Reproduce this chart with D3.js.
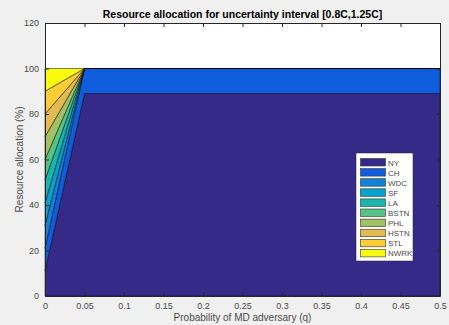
<!DOCTYPE html>
<html>
<head>
<meta charset="utf-8">
<script src="https://cdn.jsdelivr.net/npm/d3@7"></script>
<style>
  body { margin: 0; background: #f0f0f0; }
  svg { font-family: "Liberation Sans", Arial, sans-serif; display: block; }
</style>
</head>
<body>
<div id="chart"></div>
<script>
const qValues = [0, 0.05, 0.1, 0.15, 0.2, 0.25, 0.3, 0.35, 0.4, 0.45, 0.5]
const cities = ['NY', 'CH', 'WDC', 'SF', 'LA', 'BSTN', 'PHL', 'HSTN', 'STL', 'NWRK']
const NY   = [11, 89, 89, 89, 89, 89, 89, 89, 89, 89, 89]
const CH   = [10, 11, 11, 11, 11, 11, 11, 11, 11, 11, 11]
const WDC  = [10, 0, 0, 0, 0, 0, 0, 0, 0, 0, 0]
const SF   = [10, 0, 0, 0, 0, 0, 0, 0, 0, 0, 0]
const LA   = [10, 0, 0, 0, 0, 0, 0, 0, 0, 0, 0]
const BSTN = [9, 0, 0, 0, 0, 0, 0, 0, 0, 0, 0]
const PHL  = [10, 0, 0, 0, 0, 0, 0, 0, 0, 0, 0]
const HSTN = [10, 0, 0, 0, 0, 0, 0, 0, 0, 0, 0]
const STL  = [10, 0, 0, 0, 0, 0, 0, 0, 0, 0, 0]
const NWRK = [10, 0, 0, 0, 0, 0, 0, 0, 0, 0, 0]
const xTicks = [0, 0.05, 0.1, 0.15, 0.2, 0.25, 0.3, 0.35, 0.4, 0.45, 0.5]
const yTicks = [0, 20, 40, 60, 80, 100, 120]

// old matlab parula, one per series
const colors = ['#352a87', '#0f5cdd', '#1281d6', '#07a1d0', '#18b6ac',
  '#56c286', '#a2c163', '#e1bb51', '#fccd37', '#f9fb0e']

const series = [NY, CH, WDC, SF, LA, BSTN, PHL, HSTN, STL, NWRK]
const rows = qValues.map((q, i) => {
  let r = { q: q }
  cities.forEach((c, k) => { r[c] = series[k][i] })
  return r
})

const W = 449, H = 325
const m = { left: 45, right: 9, top: 23, bottom: 29 }

var svg = d3.select('#chart')
  .append('svg')
  .attr('width', W)
  .attr('height', H)

var x = d3.scaleLinear().domain([0, 0.5]).range([m.left, W - m.right])
var y = d3.scaleLinear().domain([0, 120]).range([H - m.bottom, m.top])

svg.append('rect')
  .attr('x', m.left).attr('y', m.top)
  .attr('width', x(0.5) - x(0)).attr('height', y(0) - y(120))
  .attr('fill', '#fff')

var stacked = d3.stack().keys(cities)(rows)

var area = d3.area()
  .x((d) => x(d.data.q))
  .y0((d) => y(d[0]))
  .y1((d) => y(d[1]))

svg.append('g')
  .selectAll('path')
  .data(stacked)
  .enter()
  .append('path')
  .attr('d', area)
  .attr('fill', (d, i) => colors[i])
  .attr('stroke', '#000')
  .attr('stroke-width', 0.5)
  .attr('stroke-linejoin', 'round')

// axes, matlab style: ticks inside, box all round
var axisColor = '#262626'
var labelColor = '#4a4a4a'
var xAxis = d3.axisBottom(x).tickValues(xTicks).tickSizeInner(-4).tickSizeOuter(0)
  .tickPadding(7).tickFormat((d) => d3.format('')(+d.toFixed(2)))
var yAxis = d3.axisLeft(y).tickValues(yTicks).tickSizeInner(-4).tickSizeOuter(0)
  .tickPadding(6)

var gx = svg.append('g').attr('transform', `translate(0,${y(0)})`).call(xAxis)
var gy = svg.append('g').attr('transform', `translate(${m.left},0)`).call(yAxis)
svg.append('g').attr('transform', `translate(0,${y(120)})`)
  .call(d3.axisTop(x).tickValues(xTicks).tickSizeInner(-4).tickSizeOuter(0).tickFormat(''))
svg.append('g').attr('transform', `translate(${x(0.5)},0)`)
  .call(d3.axisRight(y).tickValues(yTicks).tickSizeInner(-4).tickSizeOuter(0).tickFormat(''))

svg.selectAll('.domain').attr('stroke', axisColor)
svg.selectAll('.tick line').attr('stroke', axisColor)
svg.selectAll('.tick text')
  .attr('fill', labelColor)
  .attr('font-size', 9)
  .attr('font-family', '"Liberation Sans", Arial, sans-serif')

svg.append('text')
  .attr('x', (x(0) + x(0.5)) / 2).attr('y', 18)
  .attr('text-anchor', 'middle')
  .attr('font-size', 10.5)
  .attr('font-weight', 'bold')
  .attr('fill', '#000')
  .text('Resource allocation for uncertainty interval [0.8C,1.25C]')

svg.append('text')
  .attr('x', (x(0) + x(0.5)) / 2).attr('y', 321)
  .attr('text-anchor', 'middle')
  .attr('font-size', 10)
  .attr('fill', labelColor)
  .text('Probability of MD adversary (q)')

svg.append('text')
  .attr('transform', `translate(23,${(y(0) + y(120)) / 2}) rotate(-90)`)
  .attr('text-anchor', 'middle')
  .attr('font-size', 10)
  .attr('fill', labelColor)
  .text('Resource allocation (%)')

// legend
var lg = svg.append('g').attr('transform', 'translate(356,153)')
lg.append('rect')
  .attr('width', 57).attr('height', 108)
  .attr('fill', '#fff').attr('stroke', '#262626').attr('stroke-width', 0.5)

var item = lg.selectAll('g.item')
  .data(cities)
  .enter()
  .append('g')
  .attr('class', 'item')
  .attr('transform', (d, i) => `translate(0,${5 + i * 10.1})`)

item.append('rect')
  .attr('x', 4.5).attr('y', 0.5)
  .attr('width', 25).attr('height', 7.5)
  .attr('fill', (d, i) => colors[i])
  .attr('stroke', '#333').attr('stroke-width', 0.6)

item.append('text')
  .attr('x', 32).attr('y', 7.5)
  .attr('font-size', 8)
  .attr('fill', labelColor)
  .text((d) => d)
</script>
</body>
</html>
